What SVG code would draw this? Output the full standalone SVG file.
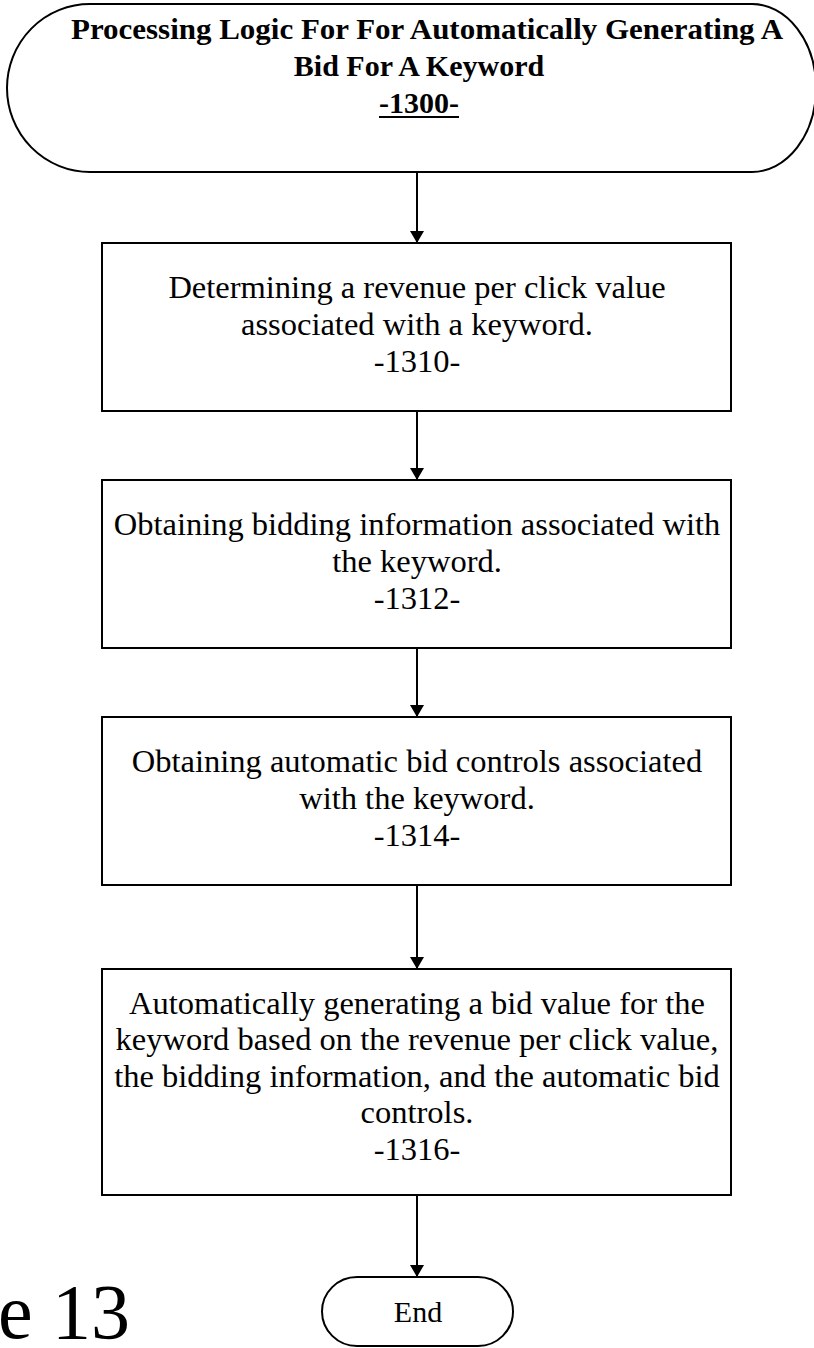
<svg xmlns="http://www.w3.org/2000/svg" width="814" height="1348" viewBox="0 0 814 1348">
<defs>
<style>
.shape{fill:#fff;stroke:#000;stroke-width:2}
.conn{stroke:#000;stroke-width:2;fill:none}
.title{font-family:"Liberation Serif","Times New Roman",serif;font-weight:bold;font-size:30px;text-anchor:middle;fill:#000}
.body{font-family:"Liberation Serif","Times New Roman",serif;font-size:32.5px;text-anchor:middle;fill:#000}
.fig{font-family:"Liberation Serif","Times New Roman",serif;font-size:78px;fill:#000}
</style>
<marker id="arr" viewBox="0 0 12 14" refX="12" refY="7" markerWidth="12" markerHeight="14" markerUnits="userSpaceOnUse" orient="auto">
<path d="M0,0 L12,7 L0,14 Z" fill="#000"/>
</marker>
</defs>
<rect width="814" height="1348" fill="#fff"/>
<g id="connectors">
<line class="conn" x1="417" y1="172" x2="417" y2="243" marker-end="url(#arr)"/>
<line class="conn" x1="417" y1="411" x2="417" y2="480" marker-end="url(#arr)"/>
<line class="conn" x1="417" y1="648" x2="417" y2="717" marker-end="url(#arr)"/>
<line class="conn" x1="417" y1="885" x2="417" y2="969" marker-end="url(#arr)"/>
<line class="conn" x1="417" y1="1195" x2="417" y2="1277" marker-end="url(#arr)"/>
</g>
<g id="start">
<path class="shape" d="M90 4 H752 A64 84 0 0 1 752 172 H90 A83 84 0 0 1 90 4 Z"/>
<text class="title" x="427" y="39" textLength="712" lengthAdjust="spacingAndGlyphs">Processing Logic For For Automatically Generating A</text>
<text class="title" x="419" y="76">Bid For A Keyword</text>
<text class="title" x="419" y="113">-1300-</text>
<line x1="379" y1="117" x2="459" y2="117" stroke="#000" stroke-width="2"/>
</g>
<g id="n1310">
<rect class="shape" x="102" y="243" width="629" height="168"/>
<text class="body" x="417" y="298">Determining a revenue per click value</text>
<text class="body" x="417" y="335">associated with a keyword.</text>
<text class="body" x="417" y="372">-1310-</text>
</g>
<g id="n1312">
<rect class="shape" x="102" y="480" width="629" height="168"/>
<text class="body" x="417" y="535">Obtaining bidding information associated with</text>
<text class="body" x="417" y="572">the keyword.</text>
<text class="body" x="417" y="609">-1312-</text>
</g>
<g id="n1314">
<rect class="shape" x="102" y="717" width="629" height="168"/>
<text class="body" x="417" y="772">Obtaining automatic bid controls associated</text>
<text class="body" x="417" y="809">with the keyword.</text>
<text class="body" x="417" y="846">-1314-</text>
</g>
<g id="n1316">
<rect class="shape" x="102" y="969" width="629" height="226"/>
<text class="body" x="417" y="1014">Automatically generating a bid value for the</text>
<text class="body" x="417" y="1050">keyword based on the revenue per click value,</text>
<text class="body" x="417" y="1087">the bidding information, and the automatic bid</text>
<text class="body" x="417" y="1123">controls.</text>
<text class="body" x="417" y="1160">-1316-</text>
</g>
<g id="end">
<rect class="shape" x="322" y="1277" width="191" height="69" rx="35" ry="35"/>
<text class="body" x="418" y="1322" style="font-size:30px">End</text>
</g>
<text class="fig" x="-2" y="1338">e 13</text>
</svg>
